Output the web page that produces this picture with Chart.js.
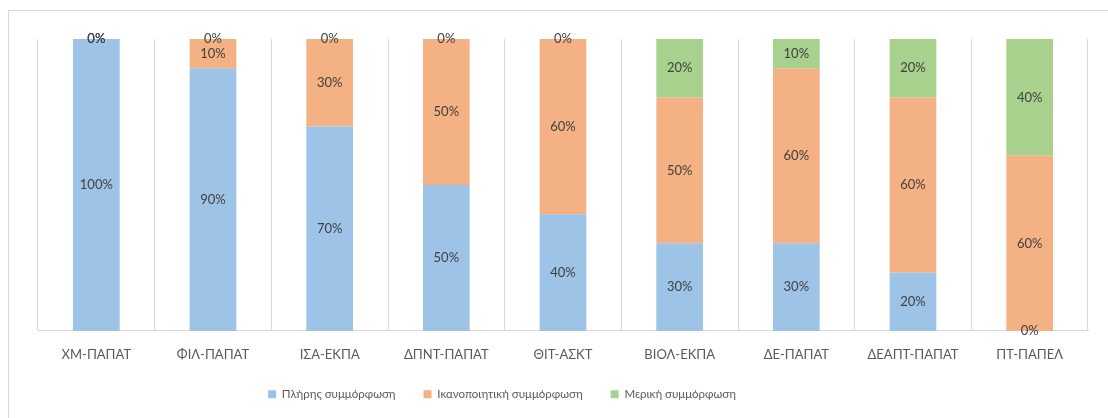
<!DOCTYPE html>
<html>
<head>
<meta charset="utf-8">
<script src="https://cdn.jsdelivr.net/npm/chart.js@4"></script>
<style>
  html, body { margin: 0; padding: 0; background: #fff; overflow: hidden; }
  #wrap { position: relative; width: 1108px; height: 418px; }
</style>
</head>
<body>
<div id="wrap"><canvas id="chart"></canvas></div>
<script>
const categories = ['ΧΜ-ΠΑΠΑΤ', 'ΦΙΛ-ΠΑΠΑΤ', 'ΙΣΑ-ΕΚΠΑ', 'ΔΠΝΤ-ΠΑΠΑΤ', 'ΘΙΤ-ΑΣΚΤ', 'ΒΙΟΛ-ΕΚΠΑ', 'ΔΕ-ΠΑΠΑΤ', 'ΔΕΑΠΤ-ΠΑΠΑΤ', 'ΠΤ-ΠΑΠΕΛ'];
const seriesNames = ['Πλήρης συμμόρφωση', 'Ικανοποιητική συμμόρφωση', 'Μερική συμμόρφωση'];
const fullCompliance = [100, 90, 70, 50, 40, 30, 30, 20, 0];
const goodCompliance = [0, 10, 30, 50, 60, 50, 60, 60, 60];
const partialCompliance = [0, 0, 0, 0, 0, 20, 10, 20, 40];
const seriesColors = ['#9dc3e6', '#f4b183', '#a9d18e'];

const FONT = 'Lato, "Open Sans", sans-serif';

// percent label in the middle of every segment, zeros included
const segmentLabels = {
  id: 'segmentLabels',
  afterDatasetsDraw(chart) {
    const ctx = chart.ctx;
    ctx.save();
    ctx.font = '13px ' + FONT;
    ctx.fillStyle = '#404040';
    ctx.textAlign = 'center';
    ctx.textBaseline = 'middle';
    chart.data.datasets.forEach((ds, i) => {
      const meta = chart.getDatasetMeta(i);
      meta.data.forEach((bar, j) => {
        const y = (bar.y + bar.base) / 2;
        ctx.fillText(ds.data[j] + '%', bar.x, y);
      });
    });
    ctx.restore();
  }
};

// outer chart frame
const frame = {
  id: 'frame',
  beforeDraw(chart) {
    const ctx = chart.ctx;
    ctx.save();
    ctx.strokeStyle = '#d9d9d9';
    ctx.lineWidth = 1;
    ctx.strokeRect(8.5, 10.5, 1300, 600);
    ctx.restore();
  }
};

// legend sits a bit left of the plot centre
const legendShift = {
  id: 'legendShift',
  afterLayout(chart) {
    chart.legend.left -= 122;
  }
};

new Chart(document.getElementById('chart'), {
  type: 'bar',
  data: {
    labels: categories,
    datasets: [fullCompliance, goodCompliance, partialCompliance].map((d, i) => ({
      label: seriesNames[i],
      data: d,
      backgroundColor: seriesColors[i],
      borderWidth: 0,
      barPercentage: 0.4,
      categoryPercentage: 1
    }))
  },
  options: {
    responsive: true,
    maintainAspectRatio: false,
    animation: false,
    layout: { padding: { left: 38, right: 20, top: 39, bottom: 8 } },
    scales: {
      x: {
        stacked: true,
        grid: { color: '#d9d9d9', drawTicks: false, offset: true },
        border: { color: '#d9d9d9' },
        ticks: { color: '#595959', font: { family: FONT, size: 13 }, padding: 16 },
        // pull the legend closer to the category labels
        afterFit(scale) { scale.height -= 18; }
      },
      y: {
        stacked: true,
        display: false,
        min: 0,
        max: 100
      }
    },
    plugins: {
      legend: {
        position: 'bottom',
        labels: {
          color: '#595959',
          font: { family: FONT, size: 11.5 },
          boxWidth: 8,
          boxHeight: 8,
          padding: 28
        }
      },
      tooltip: { enabled: false }
    }
  },
  plugins: [segmentLabels, frame, legendShift]
});
</script>
</body>
</html>
